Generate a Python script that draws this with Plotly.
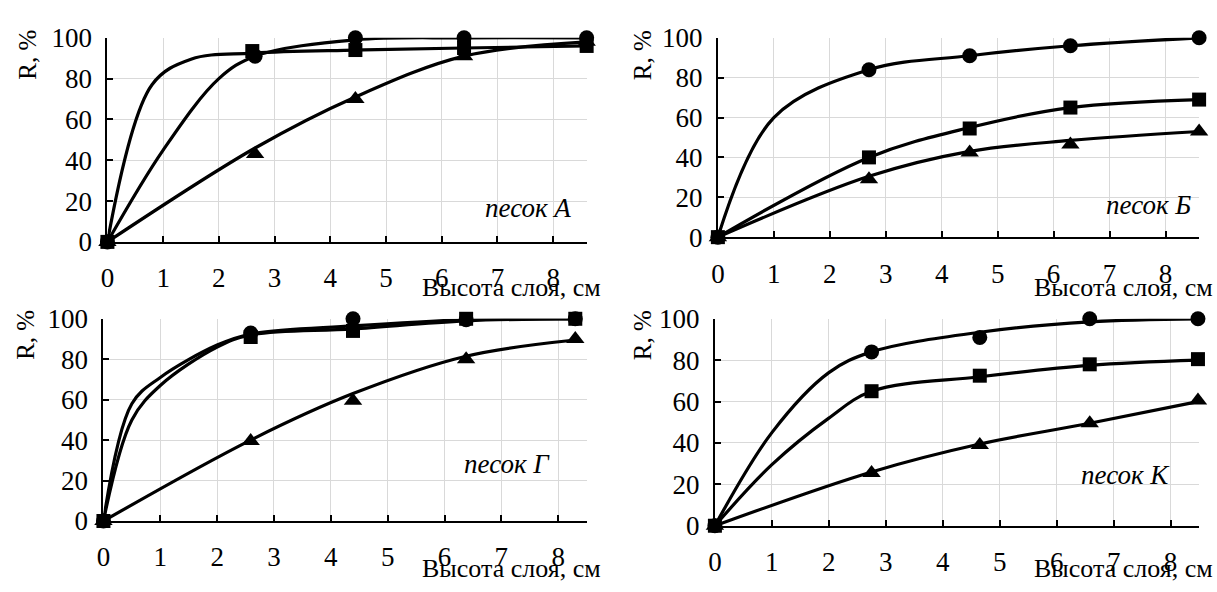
import plotly.graph_objects as go

# ---- measured points (height of layer, cm ; R, %) ----
# песок А
a_circle_x = [0, 2.65, 4.45, 6.4, 8.6]
a_circle_y = [0, 91, 100, 100, 100]
a_square_x = [0, 2.6, 4.45, 6.4, 8.6]
a_square_y = [0, 93.5, 94, 95, 96]
a_tri_x = [0, 2.65, 4.45, 6.4, 8.6]
a_tri_y = [0, 43, 70, 91, 98]
# smoothed curves
a_circle_cx = [0, 1, 2, 2.65, 4.45, 6.4, 8.6]
a_circle_cy = [0, 45, 80, 91, 99, 100, 100]
a_square_cx = [0, 0.8, 1.5, 2.6, 4.45, 6.4, 8.6]
a_square_cy = [0, 77, 89.5, 92.5, 94, 95, 96]
a_tri_cx = [0, 2.65, 4.45, 6.4, 8.6]
a_tri_cy = [0, 46, 71, 91, 98]

# песок Б
b_circle_x = [0, 2.7, 4.5, 6.3, 8.6]
b_circle_y = [0, 84, 91, 96, 100]
b_square_x = [0, 2.7, 4.5, 6.3, 8.6]
b_square_y = [0, 40, 54.5, 65, 69]
b_tri_x = [0, 2.7, 4.5, 6.3, 8.6]
b_tri_y = [0, 29, 42.5, 46.5, 53]
b_circle_cx = [0, 1, 2.7, 4.5, 6.3, 8.6]
b_circle_cy = [0, 60, 84, 91, 96, 100]
b_square_cx = [0, 2.7, 4.5, 6.3, 8.6]
b_square_cy = [0, 40, 55, 65, 69]
b_tri_cx = [0, 2.7, 4.5, 6.3, 8.6]
b_tri_cy = [0, 30.5, 43, 48.5, 53]

# песок Г
g_circle_x = [0, 2.59, 4.39, 6.38, 8.3]
g_circle_y = [0, 93, 100, 99.5, 100]
g_square_x = [0, 2.59, 4.39, 6.38, 8.3]
g_square_y = [0, 91, 94, 100, 100]
g_tri_x = [0, 2.59, 4.39, 6.38, 8.3]
g_tri_y = [0, 39.5, 59.5, 80, 90]
g_circle_cx = [0, 0.5, 1, 2, 2.59, 4.39, 6.38, 8.3]
g_circle_cy = [0, 58, 71, 87, 92.5, 96.5, 99.5, 100]
g_square_cx = [0, 0.5, 1, 2, 2.59, 4.39, 6.38, 8.3]
g_square_cy = [0, 50, 67, 86, 92, 95, 99, 100]
g_tri_cx = [0, 2.59, 4.39, 6.38, 8.3]
g_tri_cy = [0, 40, 63, 81.5, 89.5]

# песок К
k_circle_x = [0, 2.75, 4.65, 6.58, 8.48]
k_circle_y = [0, 84, 91, 100, 100]
k_square_x = [0, 2.75, 4.65, 6.58, 8.48]
k_square_y = [0, 65, 72.5, 78, 80.5]
k_tri_x = [0, 2.75, 4.65, 6.58, 8.48]
k_tri_y = [0, 25.5, 39, 49.5, 60.5]
k_circle_cx = [0, 1, 2, 2.75, 4.65, 6.58, 8.48]
k_circle_cy = [0, 45, 74, 84, 93.5, 98.5, 100]
k_square_cx = [0, 1, 2, 2.75, 4.65, 6.58, 8.48]
k_square_cy = [0, 29.5, 52, 65, 72, 77.5, 80]
k_tri_cx = [0, 2.75, 4.65, 6.58, 8.48]
k_tri_cy = [0, 26, 39.5, 49.5, 60]

x_ticks = [0, 1, 2, 3, 4, 5, 6, 7, 8]
y_ticks = [0, 20, 40, 60, 80, 100]
x_title = "Высота слоя, см"
y_title = "R, %"

W, H = 1217, 592
FONT = "Liberation Serif"

panels = [
    dict(ax="", box=(101, 583, 24, 239), xmax=8.6, label="песок А", lab=(569, 203),
         xt=(599, 287), yt=(21, 42),
         series=[(a_circle_cx, a_circle_cy, a_circle_x, a_circle_y),
                 (a_square_cx, a_square_cy, a_square_x, a_square_y),
                 (a_tri_cx, a_tri_cy, a_tri_x, a_tri_y)]),
    dict(ax="2", box=(715, 1199, 24, 234), xmax=8.6, label="песок Б", lab=(1193, 200),
         xt=(1215, 287), yt=(640, 42),
         series=[(b_circle_cx, b_circle_cy, b_circle_x, b_circle_y),
                 (b_square_cx, b_square_cy, b_square_x, b_square_y),
                 (b_tri_cx, b_tri_cy, b_tri_x, b_tri_y)]),
    dict(ax="3", box=(97, 583, 320, 533), xmax=8.5, label="песок Г", lab=(548, 473),
         xt=(599, 583), yt=(19, 337),
         series=[(g_circle_cx, g_circle_cy, g_circle_x, g_circle_y),
                 (g_square_cx, g_square_cy, g_square_x, g_square_y),
                 (g_tri_cx, g_tri_cy, g_tri_x, g_tri_y)]),
    dict(ax="4", box=(712, 1199, 320, 538), xmax=8.5, label="песок К", lab=(1172, 485),
         xt=(1215, 583), yt=(640, 337),
         series=[(k_circle_cx, k_circle_cy, k_circle_x, k_circle_y),
                 (k_square_cx, k_square_cy, k_square_x, k_square_y),
                 (k_tri_cx, k_tri_cy, k_tri_x, k_tri_y)]),
]

symbols = ["circle", "square", "triangle-up"]
sizes = [15, 14, 16]

fig = go.Figure()
annotations = []
layout_axes = {}

for p in panels:
    xa = "x" + p["ax"]
    ya = "y" + p["ax"]
    # smoothed curves first
    for cx, cy, mx, my in p["series"]:
        fig.add_trace(go.Scatter(
            x=cx, y=cy, xaxis=xa, yaxis=ya, mode="lines",
            line=dict(color="black", width=3.2, shape="spline", smoothing=1.0),
            cliponaxis=False, showlegend=False, hoverinfo="skip"))
    # markers: triangles, circles, then squares on top
    for idx in (2, 0, 1):
        cx, cy, mx, my = p["series"][idx]
        fig.add_trace(go.Scatter(
            x=mx, y=my, xaxis=xa, yaxis=ya, mode="markers",
            marker=dict(symbol=symbols[idx], size=sizes[idx], color="black"),
            cliponaxis=False, showlegend=False))

    l, r, t, b = p["box"]
    layout_axes["xaxis" + p["ax"]] = dict(
        domain=[l / W, r / W], anchor=ya, range=[0, p["xmax"]],
        tickvals=x_ticks, showline=True, linecolor="black", linewidth=2,
        ticks="inside", ticklen=6, tickwidth=1.5, tickcolor="black",
        showgrid=True, gridcolor="#d9d9d9", gridwidth=1.3, zeroline=False,
        tickfont=dict(family=FONT, size=27, color="black"),
        ticklabelstandoff=11, fixedrange=True)
    layout_axes["yaxis" + p["ax"]] = dict(
        domain=[1 - b / H, 1 - t / H], anchor=xa, range=[0, 100],
        tickvals=y_ticks, showline=True, linecolor="black", linewidth=2,
        ticks="inside", ticklen=6, tickwidth=1.5, tickcolor="black",
        showgrid=True, gridcolor="#d9d9d9", gridwidth=1.3, zeroline=False,
        tickfont=dict(family=FONT, size=27, color="black"),
        ticklabelstandoff=8, fixedrange=True)

    annotations.append(dict(
        text=p["label"], x=p["lab"][0] / W, y=1 - p["lab"][1] / H,
        xref="paper", yref="paper", xanchor="right", yanchor="middle",
        showarrow=False, font=dict(family=FONT, size=27, color="black",
                                   style="italic")))
    annotations.append(dict(
        text=x_title, x=p["xt"][0] / W, y=1 - p["xt"][1] / H,
        xref="paper", yref="paper", xanchor="right", yanchor="middle",
        showarrow=False, font=dict(family=FONT, size=26, color="black")))
    annotations.append(dict(
        text=y_title, x=p["yt"][0] / W, y=1 - p["yt"][1] / H,
        xref="paper", yref="paper", xanchor="center", yanchor="middle",
        textangle=-90, showarrow=False,
        font=dict(family=FONT, size=25, color="black")))

fig.update_layout(
    width=W, height=H, margin=dict(l=0, r=0, t=0, b=0),
    paper_bgcolor="white", plot_bgcolor="white",
    annotations=annotations, **layout_axes)

fig.write_html("out.html")
